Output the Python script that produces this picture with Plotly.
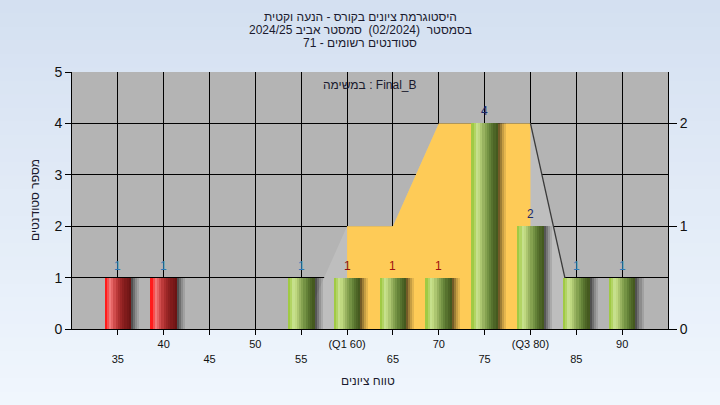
import plotly.graph_objects as go

# ---------------- data ----------------
categories = [35, 40, 45, 50, 55, 60, 65, 70, 75, 80, 85, 90]
counts = [1, 1, 0, 0, 1, 1, 1, 1, 4, 2, 1, 1]
failing = [True, True, True, True, False, False, False, False, False, False, False, False]
tick_labels = ['35', '40', '45', '50', '55', '(Q1 60)', '65', '70', '75', '(Q3 80)', '85', '90']

# distribution area (secondary axis)
area_x = [55, 60, 65, 70, 75, 80, 85]
area_y = [0, 1, 1, 2, 2, 2, 0]
iqr_x = [60, 65, 70, 75, 80]
iqr_y = [1, 1, 2, 2, 2]

title_lines = [
    'היסטוגרמת ציונים בקורס - הנעה וקטית',
    'בסמסטר  (02/2024)  סמסטר אביב 2024/25',
    'סטודנטים רשומים - 71',
]
task_label = 'במשימה : Final_B'
y_title = 'מספר סטודנטים'
x_title = 'טווח ציונים'

# ---------------- style ----------------
FONT = 'Liberation Sans'
W = 2.9
green_grad = ['#a0ca44', '#b2d464', '#c6e08c', '#bfd880', '#acc670', '#98b260',
              '#85a250', '#749244', '#648238', '#57722e', '#4d6526', '#455a1f']
red_grad = ['#ff1c1c', '#f85050', '#f07a7a', '#e46464', '#d04c4c', '#bc3a3a',
            '#aa2e2e', '#9a2626', '#8c2020', '#801b1b', '#761818', '#6c1414']
shadow_alpha = [0.55, 0.38, 0.22, 0.10]
label_colors = {35: '#2a78b8', 40: '#2a78b8', 55: '#2a78b8', 60: '#8b1010', 65: '#a01010',
                70: '#a01010', 75: '#1a2a6a', 80: '#1a2a6a', 85: '#2a78b8', 90: '#2a78b8'}

bx = [c for c, n in zip(categories, counts) if n > 0]
by = [n for n in counts if n > 0]
bf = [f for f, n in zip(failing, counts) if n > 0]

fig = go.Figure()

# area on main y (secondary scale, right)
fig.add_trace(go.Scatter(x=area_x, y=area_y, mode='lines', fill='tozeroy',
                         fillcolor='#bebebe', line=dict(color='rgba(0,0,0,0)', width=0),
                         hoverinfo='skip', showlegend=False))
fig.add_trace(go.Scatter(x=iqr_x, y=iqr_y, mode='lines', fill='tozeroy',
                         fillcolor='#fecb57', line=dict(color='rgba(0,0,0,0)', width=0),
                         hoverinfo='skip', showlegend=False))
fig.add_trace(go.Scatter(x=area_x[-2:], y=area_y[-2:], mode='lines',
                         line=dict(color='#3a3a3a', width=1.3),
                         hoverinfo='skip', showlegend=False))

# shadows
sw = 0.22
for j, a in enumerate(shadow_alpha):
    fig.add_trace(go.Bar(x=bx, y=by, yaxis='y2', width=sw, offset=W / 2 + j * sw,
                         marker=dict(color='rgba(0,0,0,%.2f)' % a, line=dict(width=0)),
                         hoverinfo='skip', showlegend=False))

# gradient bars
N = len(green_grad)
slw = W / N
for i in range(N):
    cols = [red_grad[i] if f else green_grad[i] for f in bf]
    fig.add_trace(go.Bar(x=bx, y=by, yaxis='y2', width=slw * 1.02, offset=-W / 2 + i * slw,
                         marker=dict(color=cols, line=dict(width=0)),
                         hoverinfo='skip', showlegend=False))

# background gradient stripes
H = 405.0
ML, MR, MT, MB = 72, 52, 72, 76
PH = H - MT - MB
PW = 720 - ML - MR
shapes = []
nst = 30
c0 = (212, 224, 241)
c1 = (240, 246, 253)
for k in range(nst):
    t = k / (nst - 1)
    col = 'rgb(%d,%d,%d)' % tuple(round(c0[m] + (c1[m] - c0[m]) * t) for m in range(3))
    ytop_px = k * H / nst
    ybot_px = (k + 1) * H / nst + 1
    shapes.append(dict(type='rect', xref='paper', yref='paper', layer='below',
                       x0=-ML / PW, x1=1 + MR / PW,
                       y0=(H - MB - ybot_px) / PH, y1=(H - MB - ytop_px) / PH,
                       line=dict(width=0), fillcolor=col))
shapes.append(dict(type='rect', xref='paper', yref='paper', layer='below',
                   x0=0, x1=1, y0=0, y1=1, line=dict(width=0), fillcolor='#b4b4b4'))

annotations = []
for line, ypx in zip(title_lines, [17, 30, 43]):
    annotations.append(dict(text=line, xref='paper', yref='paper',
                            x=(360 - ML) / PW, y=(H - MB - ypx) / PH,
                            xanchor='center', yanchor='middle', showarrow=False,
                            font=dict(family=FONT, size=12, color='#1a1a2e')))
annotations.append(dict(text=task_label, xref='paper', yref='paper',
                        x=(370 - ML) / PW, y=(H - MB - 85) / PH,
                        xanchor='center', yanchor='middle', showarrow=False,
                        font=dict(family=FONT, size=12, color='#1a1a2e')))
annotations.append(dict(text=y_title, xref='paper', yref='paper',
                        x=(35 - ML) / PW, y=(H - MB - 200) / PH, textangle=-90,
                        xanchor='center', yanchor='middle', showarrow=False,
                        font=dict(family=FONT, size=12, color='#1a1a2e')))
annotations.append(dict(text=x_title, xref='paper', yref='paper',
                        x=(368 - ML) / PW, y=(H - MB - 381) / PH,
                        xanchor='center', yanchor='middle', showarrow=False,
                        font=dict(family=FONT, size=12, color='#1a1a2e')))
# value labels above bars
for c, n in zip(bx, by):
    annotations.append(dict(text=str(n), x=c, y=n, xref='x', yref='y2',
                            xanchor='center', yanchor='middle', yshift=12, showarrow=False,
                            font=dict(family=FONT, size=12, color=label_colors[c])))

ticktext = [('<br>' + t) if i % 2 == 0 else t for i, t in enumerate(tick_labels)]

fig.update_layout(
    width=720, height=405,
    margin=dict(l=ML, r=MR, t=MT, b=MB),
    paper_bgcolor='#e2ebf7', plot_bgcolor='#b4b4b4',
    barmode='overlay', bargap=0,
    shapes=shapes, annotations=annotations,
    font=dict(family=FONT, size=12, color='#111111'),
    xaxis=dict(range=[30, 95], tickvals=categories, ticktext=ticktext,
               ticks='outside', ticklen=5, tickcolor='black',
               showgrid=True, gridcolor='black', gridwidth=1,
               showline=True, linecolor='black', linewidth=1, zeroline=False,
               tickfont=dict(family=FONT, size=11, color='#111111')),
    yaxis=dict(range=[0, 2.5], side='right', tickvals=[0, 1, 2],
               ticks='outside', ticklen=8, tickcolor='black',
               showgrid=False, showline=True, linecolor='black', linewidth=1,
               zeroline=False, tickfont=dict(family=FONT, size=14, color='#111111')),
    yaxis2=dict(range=[0, 5], overlaying='y', side='left', tickvals=[0, 1, 2, 3, 4, 5],
                ticks='outside', ticklen=6, tickcolor='black',
                showgrid=True, gridcolor='black', gridwidth=1,
                showline=True, linecolor='black', linewidth=1,
                zeroline=False, tickfont=dict(family=FONT, size=14, color='#111111')),
)

fig.write_html('out.html', config={'displayModeBar': False},
               post_script="document.body.style.margin='0';")
